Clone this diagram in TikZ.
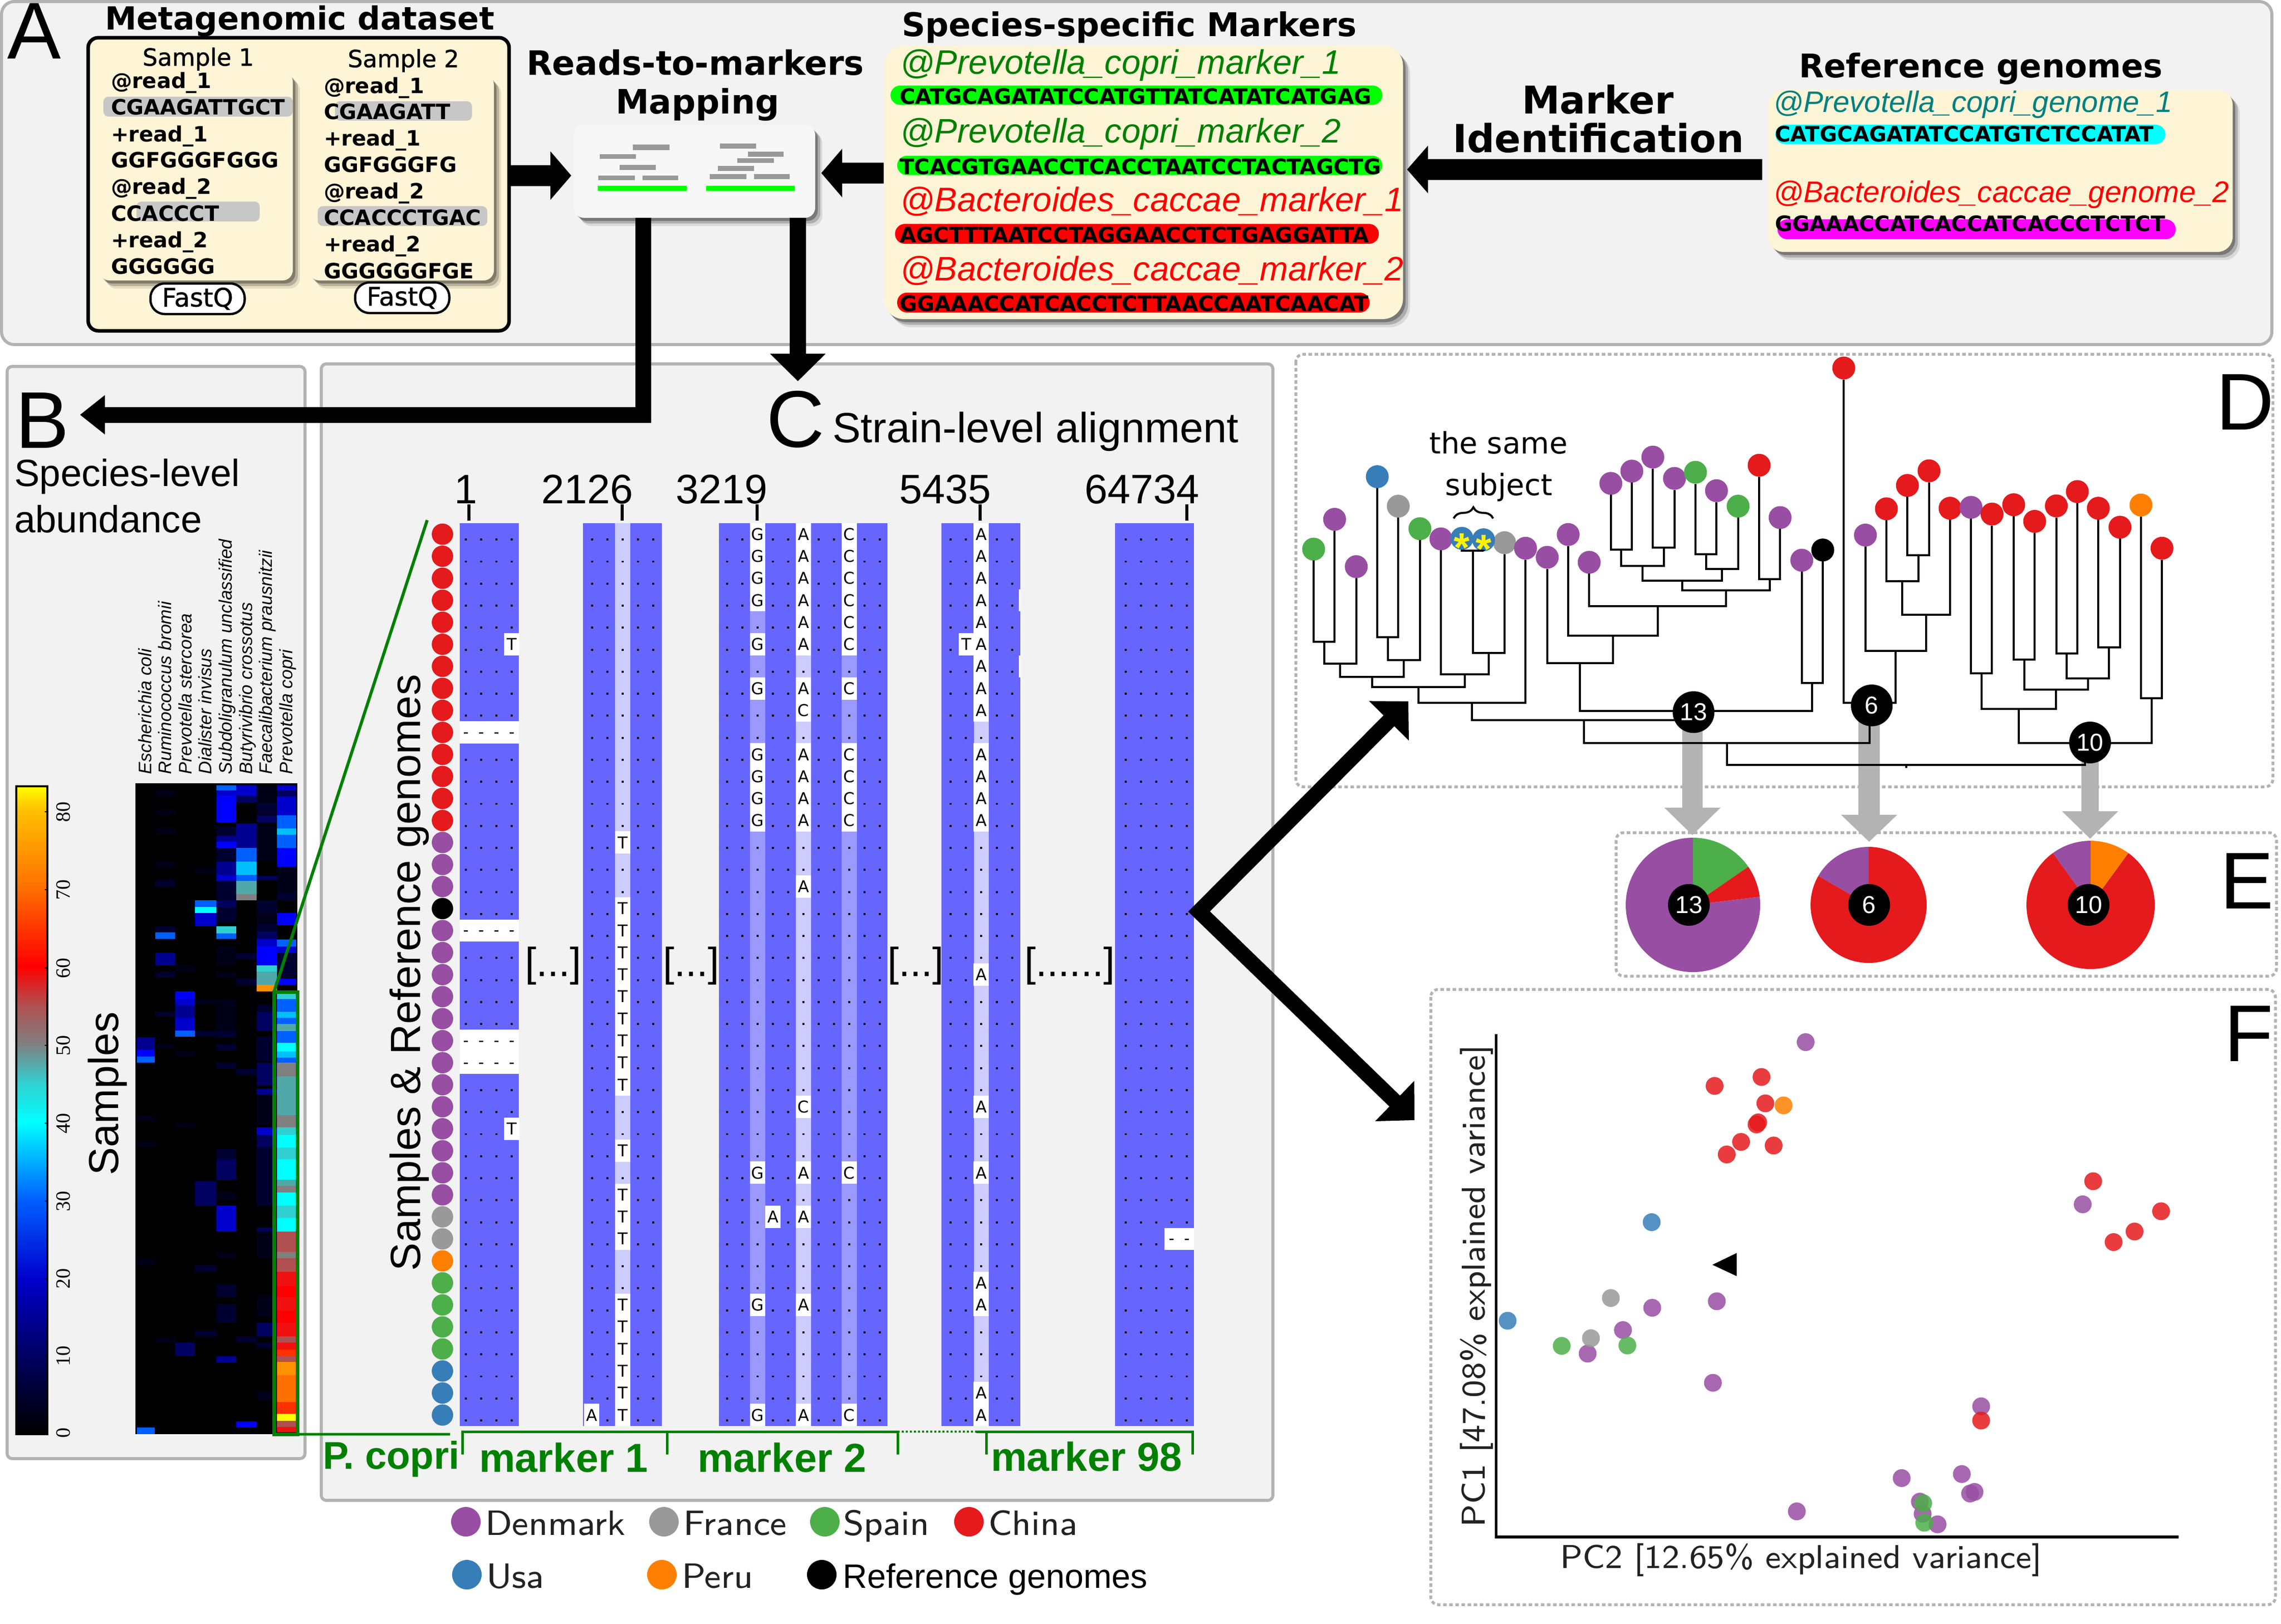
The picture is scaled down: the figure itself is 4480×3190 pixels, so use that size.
\documentclass[tikz,border=0pt]{standalone}
\usepackage{fontspec}
\setmainfont{Liberation Sans}
\newfontfamily\djv{DejaVu Sans}
\newfontfamily\djvmed[FakeBold=1.0]{DejaVu Sans}
\newfontfamily\libserif{Liberation Serif}
\usepackage{xcolor}
\usepackage{tikz}
\usetikzlibrary{arrows.meta}
\usetikzlibrary{calc}
\usetikzlibrary{shadows}
\usetikzlibrary{decorations.pathreplacing}

\definecolor{cpurple}{HTML}{984EA3}
\definecolor{cgray}{HTML}{999999}
\definecolor{cgreen}{HTML}{4DAF4A}
\definecolor{cred}{HTML}{E41A1C}
\definecolor{cblue}{HTML}{377EB8}
\definecolor{corange}{HTML}{FF7F00}
\definecolor{cream}{HTML}{FEF4D6}
\definecolor{panelfill}{HTML}{F2F2F2}
\definecolor{panelline}{HTML}{B3B3B3}
\definecolor{darkgreen}{HTML}{008000}
\definecolor{msablue}{HTML}{6666FF}
\definecolor{msamid}{HTML}{9999FF}
\definecolor{msalight}{HTML}{CCCCFF}
\definecolor{axistext}{HTML}{222222}
\definecolor{seqgreen}{HTML}{00FF00}
\definecolor{seqred}{HTML}{FF0000}
\definecolor{seqcyan}{HTML}{00FFFF}
\definecolor{seqpink}{HTML}{FF00FF}
\definecolor{seqteal}{HTML}{008080}

% heat colours
\definecolor{hA}{HTML}{000018}
\definecolor{hB}{HTML}{000030}
\definecolor{hC}{HTML}{000060}
\definecolor{hD}{HTML}{000090}
\definecolor{hE}{HTML}{0000CC}
\definecolor{hF}{HTML}{0000FF}
\definecolor{hG}{HTML}{0060FF}
\definecolor{hH}{HTML}{00BFFF}
\definecolor{hI}{HTML}{00FFFF}
\definecolor{hJ}{HTML}{30D0D0}
\definecolor{hK}{HTML}{50A8A8}
\definecolor{hL}{HTML}{808080}
\definecolor{hM}{HTML}{B05050}
\definecolor{hN}{HTML}{F01010}
\definecolor{hO}{HTML}{FF3000}
\definecolor{hP}{HTML}{FF7000}
\definecolor{hQ}{HTML}{FF9000}
\definecolor{hR}{HTML}{FFFF00}
\definecolor{hS}{HTML}{FFC000}

\pgfdeclareverticalshading{heatbar}{100bp}{color(0bp)=(black); color(25bp)=(black); color(31bp)=(hC);
  color(37bp)=(hE); color(43.1bp)=(hG); color(49.1bp)=(hI); color(52.1bp)=(hJ); color(55.1bp)=(hL);
  color(58.1bp)=(hM); color(61.1bp)=(seqred); color(67.2bp)=(hP); color(73.2bp)=(hS); color(75bp)=(hR); color(100bp)=(hR)}

\newcommand{\fsz}[1]{\fontsize{#1}{#1}\selectfont}
\newcommand{\hbands}[3]{\foreach \ya/\yb/\hc in {#3} \fill[fill=\hc] (#1,\ya) rectangle (#2,\yb);}
\newcommand{\basemark}[3]{\foreach \r in {#2} \node[basecell] (m#1-\r) at (#1,\r+.5) {#3};}
\newcommand{\rowdots}[3]{\foreach \r in {#1,...,#2} \node[sampledot,fill=#3] (s\r) at (869,\r+.5) {};}
\newcommand{\tjoin}[4]{\coordinate (#4) at ($(#1 |- 0,#3)!.5!(#2 |- 0,#3)$);
  \draw[treeline] (#1) |- (#4) -| (#2);}
\newcommand{\pieslice}[6]{\fill[#6,shift={(#1,#2)},y=.1pt] (0,0) -- (#4:#3) arc[start angle=#4,end angle=#5,radius=#3] -- cycle;}

\begin{document}
\begin{tikzpicture}[x=.1pt,y=-.1pt,
    lbl/.style={inner sep=0,outer sep=0,anchor=base west},
    clbl/.style={inner sep=0,outer sep=0,anchor=base},
    bold/.style={lbl,font=\djv\bfseries\fsz{#1}},
    seq/.style={lbl,font=\djv\bfseries\fsz{4.17}},
    reads/.style={lbl,font=\djv\bfseries\fsz{4.15}},
    panel/.style={fill=panelfill,draw=panelline,line width=.6pt},
    frame/.style={draw=panelline,line width=.55pt,dash pattern=on .7pt off .5pt,rounded corners=1.5pt},
    softshadow/.style={general shadow={shadow xshift=1.4pt,shadow yshift=-1.6pt,fill=black,opacity=.1},
      general shadow={shadow xshift=1pt,shadow yshift=-1.1pt,fill=black,opacity=.2},
      general shadow={shadow xshift=.5pt,shadow yshift=-.6pt,fill=black,opacity=.3}},
    creambox/.style={fill=cream,rounded corners=2pt,inner sep=0,outer sep=0},
    blockarrow/.style={line width=#1,draw=black},
    sampledot/.style={circle,minimum size=4.2pt,inner sep=0},
    basecell/.style={fill=white,minimum width=3pt,minimum height=4.4pt,inner sep=0,font=\djv\fsz{3.2}},
    leaf/.style={circle,minimum size=4.5pt,inner sep=0,outer sep=0},
    treeline/.style={draw=black,line width=.4pt},
    countnode/.style={circle,fill=black,text=white,minimum size=8.2pt,inner sep=0,font=\fsz{4.8}},
    pcadot/.style={circle,minimum size=3.5pt,inner sep=0,opacity=.85},
    legenddot/.style={circle,minimum size=5.8pt,inner sep=0},
    legendtext/.style={lbl,text=axistext,font=\sffamily\fsz{6.9}},
    greenlabel/.style={lbl,text=darkgreen,font=\bfseries\fsz{7.95}},
    greenline/.style={draw=darkgreen,line width=.5pt}]

    \useasboundingbox (0,0) rectangle (4480,3190);

    % panels
    \draw[panel,rounded corners=2.5pt] (3,3) rectangle (4462,677);
    \draw[panel,rounded corners=1pt] (14,720) rectangle (599,2866);
    \draw[panel,rounded corners=1pt] (631,715) rectangle (2500,2948);
    \draw[frame] (2545,696) rectangle (4464,1546);
    \draw[frame] (3174,1636) rectangle (4471,1918);
    \draw[frame] (2810,1944) rectangle (4469,3153);

    \node[lbl,font=\fsz{15.8}] (letA) at (15,115) {A};
    \node[lbl,font=\fsz{15.8}] (letB) at (30,880) {B};
    \node[lbl,font=\fsz{15.8}] (letC) at (1505,878) {C};
    \node[lbl,font=\fsz{15.8}] (letD) at (4352,844) {D};
    \node[lbl,font=\fsz{15.8}] (letE) at (4360,1785) {E};
    \node[lbl,font=\fsz{15.8}] (letF) at (4368,2085) {F};

    % A: samples
    \node[bold=6.25] (metatitle) at (206,58) {Metagenomic dataset};
    \node[creambox,draw=black,line width=.7pt,minimum width=82.7pt,minimum height=57.6pt] (metabox) at (586.5,362) {};
    \node[creambox,softshadow,minimum width=38pt,minimum height=41pt] (cardone) at (385,346) {};
    \node[creambox,softshadow,minimum width=36.3pt,minimum height=40.4pt] (cardtwo) at (788.5,349) {};
    \node[lbl,font=\djvmed\fsz{4.65}] (sampleone) at (280,129) {Sample 1};
    \node[lbl,font=\djvmed\fsz{4.65}] (sampletwo) at (683,132) {Sample 2};
    \fill[fill=black!22,rounded corners=1pt] (203,190) rectangle (575,229);
    \fill[fill=black!22,rounded corners=1pt] (268,396) rectangle (510,435);
    \fill[fill=black!22,rounded corners=1pt] (658,199) rectangle (927,237);
    \fill[fill=black!22,rounded corners=1pt] (624,405) rectangle (957,444);
    \foreach \ly/\rd [count=\i] in {173/@read\_1,225/CGAAGATTGCT,278/+read\_1,329/GGFGGGFGGG,381/@read\_2,434/CCACCCT,486/+read\_2,538/GGGGGG}
        \node[reads] (rone\i) at (218,\ly) {\rd};
    \foreach \ly/\rd [count=\i] in {183/@read\_1,234/CGAAGATT,286/+read\_1,338/GGFGGGFG,390/@read\_2,442/CCACCCTGAC,494/+read\_2,547/GGGGGGFGE}
        \node[reads] (rtwo\i) at (636,\ly) {\rd};
    \node[draw=black,fill=white,line width=.45pt,rounded corners=2.8pt,minimum width=18.5pt,minimum height=6pt,inner sep=0,font=\djvmed\fsz{5}] (fastqone) at (388,587) {FastQ};
    \node[draw=black,fill=white,line width=.45pt,rounded corners=2.8pt,minimum width=18.5pt,minimum height=6pt,inner sep=0,font=\djvmed\fsz{5}] (fastqtwo) at (790,585) {FastQ};

    % A: mapping
    \node[bold=6.6] (maptitle) at (1034,147) {Reads-to-markers};
    \node[bold=6.6] (maptitlb) at (1209,223) {Mapping};
    \node[creambox,fill=black!3,softshadow,minimum width=47.4pt,minimum height=18.3pt] (mapbox) at (1364,336.5) {};
    \foreach \xa/\xb/\ya/\yb in {1243/1315/284/295,1178/1249/303/312,1217/1288/324/334,1175/1247/345/354,1262/1332/345/354,
        1414/1485/282/292,1469/1539/298/308,1448/1520/311/320,1410/1481/326/336,1394/1466/342/352,1481/1551/342/352}
        \fill[fill=cgray] (\xa,\ya) rectangle (\xb,\yb);
    \fill[fill=seqgreen] (1174,365) rectangle (1349,375);
    \fill[fill=seqgreen] (1387,365) rectangle (1561,375);

    % A: markers
    \node[bold=6.42] (marktitle) at (1771,71) {Species-specific Markers};
    \node[creambox,softshadow,rounded corners=4pt,minimum width=102pt,minimum height=53.8pt] (markerbox) at (2245.5,358) {};
    \fill[fill=seqgreen,rounded corners=1.9pt] (1749,168) rectangle (2715,206);
    \fill[fill=seqgreen,rounded corners=1.9pt] (1762,306) rectangle (2715,344);
    \fill[fill=seqred,rounded corners=1.9pt] (1758,440) rectangle (2708,479);
    \fill[fill=seqred,rounded corners=1.9pt] (1762,575) rectangle (2690,614);
    \node[lbl,text=darkgreen,font=\itshape\fsz{6.68}] (mone) at (1768,145) {@Prevotella\_copri\_marker\_1};
    \node[lbl,text=darkgreen,font=\itshape\fsz{6.68}] (mtwo) at (1768,280) {@Prevotella\_copri\_marker\_2};
    \node[lbl,text=seqred,font=\itshape\fsz{6.68}] (mthree) at (1768,415) {@Bacteroides\_caccae\_marker\_1};
    \node[lbl,text=seqred,font=\itshape\fsz{6.68}] (mfour) at (1768,551) {@Bacteroides\_caccae\_marker\_2};
    \node[seq] (sone) at (1767,204) {CATGCAGATATCCATGTTATCATATCATGAG};
    \node[seq] (stwo) at (1767,342) {TCACGTGAACCTCACCTAATCCTACTAGCTG};
    \node[seq] (sthree) at (1767,476) {AGCTTTAATCCTAGGAACCTCTGAGGATTA};
    \node[seq] (sfour) at (1767,611) {GGAAACCATCACCTCTTAACCAATCAACAT};

    % A: reference genomes
    \node[bold=7.5] (idone) at (2989,223) {Marker};
    \node[bold=7.6] (idtwo) at (2853,299) {Identification};
    \node[bold=6.4] (reftitle) at (3533,152) {Reference genomes};
    \node[creambox,softshadow,rounded corners=3pt,minimum width=91.2pt,minimum height=31.9pt] (refbox) at (3929,335.5) {};
    \fill[fill=seqcyan,rounded corners=1.9pt] (3487,245) rectangle (4253,283);
    \fill[fill=seqpink,rounded corners=1.9pt] (3491,431) rectangle (4273,470);
    \node[lbl,text=seqteal,font=\itshape\fsz{5.82}] (gone) at (3483,220) {@Prevotella\_copri\_genome\_1};
    \node[lbl,text=seqred,font=\itshape\fsz{5.85}] (gtwo) at (3483,397) {@Bacteroides\_caccae\_genome\_2};
    \node[seq] (gsone) at (3486,278) {CATGCAGATATCCATGTCTCCATAT};
    \node[seq] (gstwo) at (3486,454) {GGAAACCATCACCATCACCCTCTCT};

    % black arrows of A
    \draw[blockarrow=4.1pt,-{Triangle[length=4.1pt,width=9.3pt]}] ([yshift=1.7pt]metabox.east) -- ([xshift=-.5pt,yshift=-.85pt]mapbox.west);
    \draw[blockarrow=4.1pt,-{Triangle[length=4.1pt,width=9.3pt]}] ([yshift=1.8pt]markerbox.west) -- ([xshift=1.2pt,yshift=-.35pt]mapbox.east);
    \draw[blockarrow=4.1pt,-{Triangle[length=4.1pt,width=9.1pt]}] ([xshift=-1.2pt,yshift=.25pt]refbox.west) -- ([xshift=.8pt,yshift=2.5pt]markerbox.east);

    \coordinate (tipB) at (157,815);
    \coordinate (tipC) at (1567,749);
    \coordinate (tipD) at (2766,1378);
    \coordinate (tipF) at (2778,2201);
    \draw[blockarrow=3.1pt,-{Triangle[length=4.9pt,width=7.4pt]}] ([xshift=-10.1pt]mapbox.south) |- (tipB);
    \draw[blockarrow=3.2pt,-{Triangle[length=5.4pt,width=10.6pt]}] ([xshift=20.3pt]mapbox.south) -- (tipC);

    % B: colour bar and heat map
    \node[lbl,font=\fsz{7.45}] (bone) at (28,955) {Species-level};
    \node[lbl,font=\fsz{7.45}] (btwo) at (28,1046) {abundance};
    \node[lbl,rotate=90,font=\fsz{8.25}] (samplesB) at (232,2309) {Samples};
    \shade[shading=heatbar] (32,1545) rectangle (93,2818);
    \draw[black,line width=.35pt] (32,1545) rectangle (93,2818);
    \foreach \tv/\ty in {0/2815,10/2664,20/2512,30/2360,40/2207,50/2054,60/1902,70/1748,80/1595} {
        \draw[black,line width=.2pt] (88,\ty) -- (93,\ty);
        \node[rotate=90,inner sep=0,anchor=base,font=\libserif\fsz{4}] (tick\tv) at (138,\ty) {\tv};
    }
    \foreach \bx/\sp in {297/Escherichia coli,336/Ruminococcus bromii,376/Prevotella stercorea,415/Dialister invisus,
        455/Subdoligranulum unclassified,495/Butyrivibrio crossotus,534/Faecalibacterium prausnitzii,574/Prevotella copri}
        \node[lbl,rotate=90,font=\itshape\fsz{3.55}] (sp\bx) at (\bx,1521) {\sp};
    \fill[black] (266,1539) rectangle (584,2818);
    \begin{scope}[shift={(0,1000)},x=.05740pt,y=-.12117pt]
        \hbands{468}{530}{857/877/hD,877/888/hF,888/898/hG,1490/1500/hG,983/993/hA,1025/1035/hA,1216/1226/hA}
        \hbands{532}{600}{456/466/hA,488/497/hA,517/527/hA,572/582/hA,602/612/hB,677/687/hB,687/697/hG,720/740/hD,750/760/hB,815/823/hB,868/876/hA,1343/1352/hA}
        \hbands{600}{668}{782/795/hF,795/805/hE,805/825/hD,825/846/hE,846/856/hG,878/888/hA,740/750/hA,995/1003/hA,1352/1373/hC}
        \hbands{668}{740}{635/645/hG,645/655/hI,655/676/hE,582/592/hA,795/803/hA,847/855/hB,1090/1100/hC,1100/1130/hC,1226/1237/hB,1332/1342/hB}
        \hbands{740}{808}{448/456/hG,456/465/hE,465/508/hF,515/530/hB,530/540/hD,540/550/hF,550/572/hB,572/593/hD,593/603/hE,603/635/hB,635/645/hC,645/670/hB,677/688/hJ,688/697/hG,710/740/hA,750/762/hA,795/847/hA,847/857/hB,868/878/hB,898/908/hB,1037/1055/hB,1055/1088/hC,1108/1120/hA,1130/1172/hE,1205/1215/hA,1258/1278/hB,1290/1320/hB,1374/1384/hD}
        \hbands{808}{878}{448/465/hE,465/476/hC,510/530/hD,530/550/hD,550/572/hG,572/593/hH,593/603/hG,603/625/hK,625/635/hL,720/730/hB,762/772/hB,908/918/hB,1480/1490/hF,1342/1352/hB}
        \hbands{878}{947}{450/475/hA,476/495/hB,497/508/hC,510/570/hA,595/602/hC,635/655/hB,655/670/hA,672/685/hB,685/697/hC,697/709/hE,709/720/hF,720/740/hF,740/750/hJ,750/772/hK,772/782/hQ,805/815/hB,815/835/hC,835/847/hC,855/895/hB,898/935/hC,940/950/hD,950/1000/hA,1003/1015/hE,1015/1035/hC,1035/1130/hB,1165/1172/hC,1172/1215/hA,1275/1310/hA,1320/1342/hC,1352/1362/hB,1430/1445/hA}
        \hbands{947}{1014}{448/456/hE,456/466/hC,466/497/hE,497/518/hG,518/528/hH,528/550/hG,550/580/hF,580/623/hA,623/635/hB,655/675/hF,698/710/hG,710/720/hE,720/760/hB,762/772/hF,785/795/hJ,795/815/hG,815/825/hH,825/835/hG,835/847/hK,847/855/hG,855/866/hG,866/880/hI,880/890/hH,890/898/hG,898/920/hL,920/950/hK,950/983/hK,983/1003/hL,1003/1015/hJ,1015/1036/hI,1036/1055/hJ,1055/1088/hI,1088/1098/hK,1098/1108/hL,1108/1130/hI,1130/1150/hJ,1150/1172/hI,1172/1205/hM,1205/1215/hL,1215/1226/hM,1226/1237/hM,1237/1260/hN,1260/1278/seqred,1278/1300/hN,1300/1320/seqred,1320/1342/hN,1342/1352/hM,1352/1363/hN,1363/1373/hO,1373/1383/hM,1383/1405/hQ,1405/1448/hP,1448/1467/hO,1467/1479/hR,1479/1489/hM,1489/1497/hN}
    \end{scope}
    \node[draw=darkgreen,line width=.7pt,minimum width=4.6pt,minimum height=86.9pt,inner sep=0,outer sep=0] (pcopribox) at (561,2383.5) {};
    \coordinate (zoomtop) at (839,1022);
    \coordinate (zoombot) at (884,2818);
    \draw[greenline,line width=.6pt] (pcopribox.north west) -- (zoomtop);
    \draw[greenline] (pcopribox.south east) -- (zoombot);

    % C: alignment
    \node[lbl,font=\fsz{8.3}] (ctitle) at (1635,869) {Strain-level alignment};
    \foreach \lx/\tx/\pos in {892/921/1,1063/1222/2126,1327/1487/3219,1766/1925/5435,2130/2331/64734} {
        \node[lbl,font=\fsz{8.1}] (pos\pos) at (\lx,989) {\pos};
        \draw[black,line width=.6pt] (\tx,991) -- (\tx,1023);
    }
    \node[lbl,rotate=90,font=\fsz{8.3}] (samplesC) at (825,2497) {Samples \& Reference genomes};
    \begin{scope}[shift={(0,1028)},y=-4.327pt]
        \foreach \xa/\xb in {903/1019,1145/1300,1412/1743,1849/2004,2190/2345}
            \fill[msablue] (\xa,0) rectangle (\xb,41);
        \fill[msalight] (1208,0) rectangle (1238,41);
        \fill[msamid] (1473,0) rectangle (1503,41);
        \fill[msalight] (1563,0) rectangle (1593,41);
        \fill[msamid] (1653,0) rectangle (1683,41);
        \fill[msalight] (1913,0) rectangle (1942,41);
        \fill[white] (2001,3) rectangle (2004,4);
        \fill[white] (2001,6) rectangle (2004,7);
        \foreach \x in {915,945,975,1005,1163,1193,1223,1253,1283,1428,1458,1488,1518,1548,1578,1608,1638,1668,1698,1728,1867,1897,1927,1958,1988,2211,2241,2271,2301,2331}
            \foreach \r in {0,...,40}
                \fill[black] (\x-2,\r+.70) rectangle (\x+2,\r+.79);
        % gaps
        \foreach \r in {9,18,23,24} {
            \fill[white] (903,\r) rectangle (1019,\r+1);
            \foreach \x in {915,945,975,1005} \node[inner sep=0,font=\fsz{3.3}] (gap\x-\r) at (\x,\r+.62) {-};
        }
        \fill[white] (2287,32) rectangle (2345,33);
        \foreach \x in {2301,2331} \node[inner sep=0,font=\fsz{3.3}] (gap\x) at (\x,32.62) {-};
        \basemark{1005}{5,27}{T}
        \basemark{1223}{14,17,18,19,20,21,22,23,24,25,28,30,31,32,35,36,37,38,39,40}{T}
        \basemark{1162}{40}{A}
        \basemark{1488}{0,1,2,3,5,7,10,11,12,13,29,35,40}{G}
        \basemark{1518}{31}{A}
        \basemark{1578}{0,1,2,3,4,5,7,10,11,12,13,16,29,31,35,40}{A}
        \basemark{1578}{8,26}{C}
        \basemark{1668}{0,1,2,3,4,5,7,10,11,12,13,29,40}{C}
        \basemark{1898}{5}{T}
        \basemark{1927}{0,1,2,3,4,5,6,7,8,10,11,12,13,20,26,29,34,35,39,40}{A}
        \rowdots{0}{13}{cred}
        \rowdots{14}{16}{cpurple}
        \rowdots{17}{17}{black}
        \rowdots{18}{30}{cpurple}
        \rowdots{31}{32}{cgray}
        \rowdots{33}{33}{corange}
        \rowdots{34}{37}{cgreen}
        \rowdots{38}{40}{cblue}
    \end{scope}
    \foreach \lx/\txt/\nm in {1031/{[...]}/one,1302/{[...]}/two,1743/{[...]}/three,2012/{[......]}/four}
        \node[lbl,font=\fsz{8}] (skip\nm) at (\lx,1918) {\txt};

    % C: marker brackets
    \node[greenlabel,font=\bfseries\fsz{7.6}] (pclabel) at (634,2886) {P. copri};
    \node[greenlabel] (mkone) at (941,2892) {marker 1};
    \node[greenlabel] (mktwo) at (1370,2892) {marker 2};
    \node[greenlabel] (mkend) at (1946,2890) {marker 98};
    \draw[greenline] (908,2858) -- (908,2813) -- (1763,2813) -- (1763,2858);
    \draw[greenline] (1310,2813) -- (1310,2858);
    \draw[greenline,line width=.4pt,dash pattern=on .4pt off .4pt] (1763,2813) -- (1917,2813);
    \draw[greenline] (1937,2858) -- (1937,2813) (1917,2813) -- (2342,2813) -- (2342,2858);

    % legend
    \foreach \cx/\cy/\tx/\by/\col/\txt/\nm in {915/2990/953/3016/cpurple/Denmark/dk,1304/2990/1342/3016/cgray/France/fr,1620/2990/1656/3016/cgreen/Spain/es,1903/2990/1941/3016/cred/China/cn,917/3094/955/3120/cblue/Usa/us,1300/3094/1339/3120/corange/Peru/pe} {
        \node[legenddot,fill=\col] (dot\nm) at (\cx,\cy) {};
        \node[legendtext] (txt\nm) at (\tx,\by) {\txt};
    }
    \node[legenddot,fill=black] (dotrf) at (1614,3094) {};
    \node[lbl,font=\fsz{6.65}] (txtrf) at (1655,3120) {Reference genomes};

    % arrows to D and F
    \coordinate (fork) at (2355,1791);
    \draw[blockarrow=3pt,{Triangle[length=5.4pt,width=10.7pt]}-{Triangle[length=5.4pt,width=10.7pt]},miter limit=10] (tipD) -- (fork) -- (tipF);

    % grey arrows to the pies
    \coordinate (grey13) at (3324,1399);
    \coordinate (grey6) at (3671,1386);
    \coordinate (grey10) at (4105,1459);
    \coordinate (pietip13) at (3324,1641);
    \coordinate (pietip6) at (3671,1654);
    \coordinate (pietip10) at (4105,1648);
    \draw[draw=panelline,line width=4pt,-{Triangle[length=5.4pt,width=10.7pt]}] (grey13) -- (pietip13);
    \draw[draw=panelline,line width=4.2pt,-{Triangle[length=5.3pt,width=10.7pt]}] (grey6) -- (pietip6);
    \draw[draw=panelline,line width=3.4pt,-{Triangle[length=5.4pt,width=10.7pt]}] (grey10) -- (pietip10);

    % D: tree
    \begin{scope}[shift={(2520,680)},x=.125pt,y=-.0574pt]
        \foreach \n/\lx/\ly/\lc in {1/48/695/cgreen,2/81/593/cpurple,3/115/755/cpurple,4/148/447/cblue,5/181/548/cgray,6/215/625/cgreen,
            7/248/660/cpurple,10/348/673/cgray,11/381/692/cpurple,12/415/723/cpurple,13/448/645/cpurple,14/481/740/cpurple,
            15/515/470/cpurple,16/548/428/cpurple,17/581/380/cpurple,18/615/453/cpurple,19/648/432/cgreen,20/681/495/cpurple,
            21/715/548/cgreen,22/748/408/cred,23/781/587/cpurple,24/815/733/cpurple,25/848/698/black,26/881/75/cred,
            27/915/647/cpurple,28/948/557/cred,29/981/477/cred,30/1015/427/cred,31/1048/555/cred,32/1081/552/cpurple,
            33/1114/575/cred,34/1148/543/cred,35/1181/600/cred,36/1215/547/cred,37/1248/498/cred,38/1281/555/cred,
            39/1315/620/cred,40/1348/544/corange,41/1381/692/cred}
            \node[leaf,fill=\lc] (l\n) at (\lx,\ly) {};
        \node[leaf,fill=cblue,text=yellow,font=\bfseries\fsz{8}] (l8) at (281,658) {\smash{\raisebox{-4.6pt}{*}}};
        \node[leaf,fill=cblue,text=yellow,font=\bfseries\fsz{8}] (l9) at (315,663) {\smash{\raisebox{-4.6pt}{*}}};
        \tjoin{l1}{l2}{1012}{a1}
        \tjoin{a1}{l3}{1087}{a2}
        \tjoin{l4}{l5}{997}{a3}
        \tjoin{a3}{l6}{1075}{a4}
        \tjoin{a2}{a4}{1132}{a5}
        \tjoin{l8}{l9}{700}{a6}
        \tjoin{a6}{l10}{1051}{a7}
        \tjoin{l7}{a7}{1123}{a8}
        \tjoin{a5}{a8}{1168}{a9}
        \tjoin{a9}{l11}{1221}{a10}
        \tjoin{l15}{l16}{697}{b1}
        \tjoin{l17}{l18}{690}{b2}
        \tjoin{b1}{b2}{753}{b3}
        \tjoin{l19}{l20}{712}{b4}
        \tjoin{b4}{l21}{763}{b5}
        \tjoin{b3}{b5}{803}{b6}
        \tjoin{l22}{l23}{797}{b7}
        \tjoin{b6}{b7}{836}{b8}
        \tjoin{l14}{b8}{890}{b9}
        \tjoin{l13}{b9}{992}{b10}
        \tjoin{l12}{b10}{1085}{b11}
        \tjoin{l24}{l25}{1153}{b12}
        \tjoin{b11}{b12}{1249}{n13}
        \tjoin{a10}{n13}{1280}{c1}
        \tjoin{l29}{l30}{716}{d1}
        \tjoin{l28}{d1}{805}{d2}
        \tjoin{d2}{l31}{920}{d3}
        \tjoin{l27}{d3}{1043}{d4}
        \tjoin{l26}{d4}{1222}{n6}
        \tjoin{c1}{n6}{1358}{c2}
        \tjoin{l32}{l33}{1120}{e1}
        \tjoin{l34}{l35}{1073}{e2}
        \tjoin{l36}{l37}{1052}{e3}
        \tjoin{l38}{l39}{1032}{e4}
        \tjoin{e3}{e4}{1138}{e5}
        \tjoin{e2}{e5}{1176}{e6}
        \tjoin{e1}{e6}{1242}{e7}
        \tjoin{l40}{l41}{1205}{e8}
        \tjoin{e7}{e8}{1358}{n10}
        \tjoin{c2}{n10}{1433}{root}
        \draw[treeline] (root) -- ++(0,12);
        \node[countnode] (t13) at (645,1253) {13};
        \node[countnode] (t6) at (925,1230) {6};
        \node[countnode] (t10) at (1268,1357) {10};
        \draw[black,line width=.4pt,decorate,decoration={brace,amplitude=2.2pt}] (268,590) -- (330,590);
    \end{scope}
    \node[clbl,font=\djv\fsz{5.8}] (sameone) at (2943,891) {the same};
    \node[clbl,font=\djv\fsz{5.8}] (sametwo) at (2944,973) {subject};

    % E: pies
    \pieslice{3325}{1778}{132}{90}{34.6}{cgreen}
    \pieslice{3325}{1778}{132}{34.6}{6.9}{cred}
    \pieslice{3325}{1778}{132}{6.9}{-270}{cpurple}
    \pieslice{3670}{1778}{114}{90}{-210}{cred}
    \pieslice{3670}{1778}{114}{150}{90}{cpurple}
    \pieslice{4106}{1778}{126}{54}{-234}{cred}
    \pieslice{4106}{1778}{126}{126}{90}{cpurple}
    \pieslice{4106}{1778}{126}{90}{54}{corange}
    \node[countnode] (pc13) at (3317,1778) {13};
    \node[countnode] (pc6) at (3671,1778) {6};
    \node[countnode] (pc10) at (4102,1778) {10};

    % F: scatter
    \begin{scope}[shift={(2780,1940)},x=.1084pt,y=-.0797pt]
        \foreach \px/\py [count=\i] in {707/135,1209/535,429/790,546/774,376/845,312/903,539/975,1025/1033,881/1210,990/1200,1005/1248,1013/1244,914/1268,919/1298,946/1324,691/1292}
            \node[pcadot,fill=cpurple] (fd\i) at (\px,\py) {};
        \foreach \px/\py [count=\i] in {542/243,627/221,634/286,621/333,618/338,590/381,649/390,564/412,1228/478,1351/552,1303/602,1265/628,1025/1068}
            \node[pcadot,fill=cred] (fc\i) at (\px,\py) {};
        \node[pcadot,fill=corange] (fp1) at (667,291) {};
        \foreach \px/\py [count=\i] in {428/579,167/822}
            \node[pcadot,fill=cblue] (fu\i) at (\px,\py) {};
        \foreach \px/\py [count=\i] in {354/766,318/865}
            \node[pcadot,fill=cgray] (ff\i) at (\px,\py) {};
        \foreach \px/\py [count=\i] in {265/884,384/883,920/1272,922/1320}
            \node[pcadot,fill=cgreen] (fs\i) at (\px,\py) {};
        \fill[black] (538,684) -- (582,655) -- (582,712) -- cycle;
        \draw[black,line width=.55pt] (146,115) -- (146,1355) -- (1383,1355);
    \end{scope}
    \node[lbl,rotate=90,text=axistext,font=\sffamily\fsz{6.5}] (pcone) at (2916,3000) {PC1 [47.08\% explained variance]};
    \node[lbl,text=axistext,font=\sffamily\fsz{6.5}] (pctwo) at (3064,3081) {PC2 [12.65\% explained variance]};
\end{tikzpicture}
\end{document}
